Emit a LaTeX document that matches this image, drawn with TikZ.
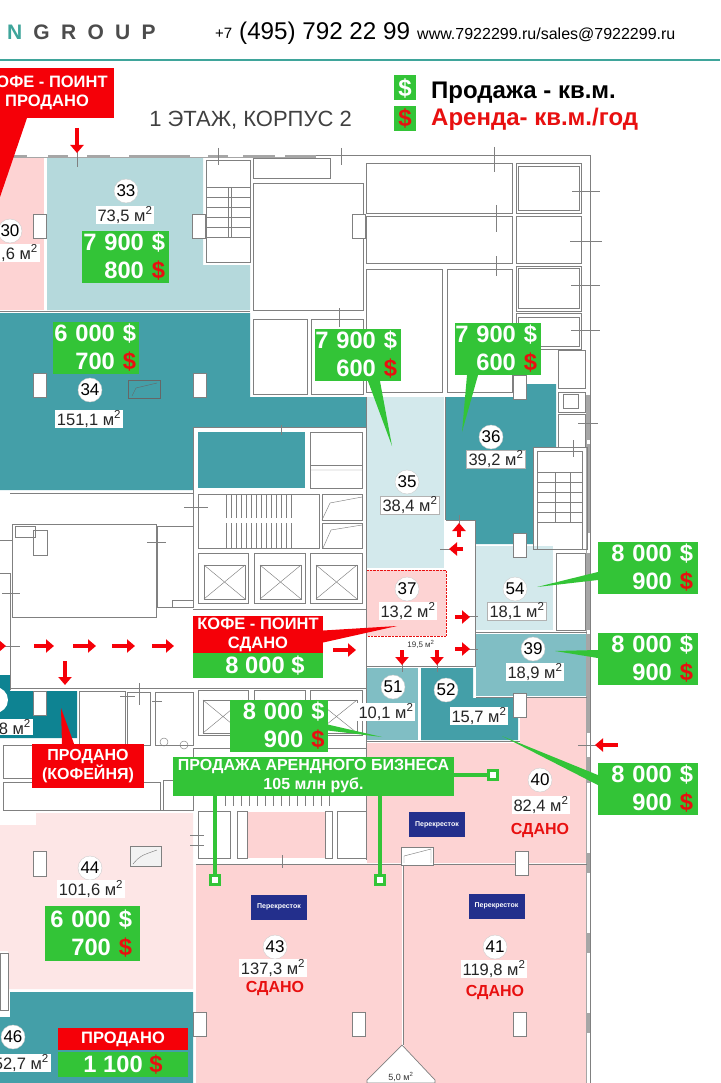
\documentclass[tikz,border=0pt]{standalone}
\usepackage{fontspec}
\setmainfont{Liberation Sans}
\usepackage{xcolor}
\usetikzlibrary{arrows.meta,calc}
\definecolor{pricegreen}{HTML}{33C437}
\definecolor{rentred}{HTML}{E81010}
\definecolor{soldred}{HTML}{F50008}
\definecolor{roompink}{HTML}{FDD3D3}
\definecolor{palepink}{HTML}{FDE6E6}
\definecolor{roomteal}{HTML}{449FA8}
\definecolor{darkteal}{HTML}{0E8392}
\definecolor{midteal}{HTML}{80BEC4}
\definecolor{lightteal}{HTML}{B5D9DC}
\definecolor{paleteal}{HTML}{D3E9EC}
\definecolor{wallgray}{HTML}{808080}
\definecolor{headteal}{HTML}{3FA59B}
\definecolor{logoblue}{HTML}{232F8C}
\newcommand{\fs}[2]{\fontsize{#1}{#2}\selectfont}
\newcommand{\rd}{\textcolor{rentred}{\$}}
\newcommand{\sqm}{ м\textsuperscript{2}}
\newcommand{\pr}[3][4pt]{#2 \$\kern#1\\#3 \rd\kern#1}
\begin{document}
\begin{tikzpicture}[x=1pt,y=-1pt,
		wall/.style={draw=wallgray,line width=.7pt},
		thinline/.style={draw=wallgray,line width=.45pt},
		redarrow/.style={draw=soldred,line width=4pt,-{Triangle[length=8pt,width=13pt]}},
		pin/.style={draw=pricegreen,line width=4pt},
		price/.style={fill=pricegreen,text=white,font=\fs{23.7}{28}\bfseries,align=right,text width=#1pt,inner xsep=0pt,inner ysep=0pt,minimum height=52pt},
		redbox/.style={fill=soldred,text=white,font=\fs{16.5}{19}\bfseries,align=center,inner sep=0pt},
		num/.style={circle,fill=white,draw=black!20,line width=.4pt,inner sep=0pt,minimum size=24pt,font=\fs{17}{17}},
		area/.style={fill=white,inner xsep=2pt,inner ysep=1pt,text=black!85,font=\fs{16.5}{17}},
		sdano/.style={text=rentred,font=\fs{16}{16}\bfseries,inner sep=0pt},
		logo/.style={fill=logoblue,text=white,font=\fs{7}{7}\bfseries,minimum width=56pt,minimum height=25pt,inner sep=0pt},
		pinend/.style={fill=white,draw=pricegreen,line width=3pt,minimum size=9pt,inner sep=0pt}]
	\useasboundingbox (0,0) rectangle (720,1083);
	\clip (0,0) rectangle (720,1083);
	\fill[white] (0,0) rectangle (720,1083);
	\draw[draw=headteal,line width=1.3pt] (0,60) -- (720,60);
	\node[anchor=west,inner sep=0pt,text=black!70,font=\fs{21}{21}\bfseries\addfontfeature{LetterSpace=54}] (brand) at (7,32) {\textcolor{headteal}{N}\kern 11pt GROUP};
	\node[anchor=base west,inner sep=0pt,font=\fs{15}{15}] (plus) at (215,39) {+7};
	\node[anchor=base west,inner sep=0pt,font=\fs{24.2}{25}] (phone) at (239,40) {(495) 792 22 99};
	\node[anchor=base west,inner sep=0pt,font=\fs{16}{16}] (web) at (417,40) {www.7922299.ru/sales@7922299.ru};
	\node[inner sep=0pt,text=black!75,font=\fs{22}{22}] (title) at (250.5,120) {1 ЭТАЖ, КОРПУС 2};
	\node[fill=pricegreen,text=white,minimum width=22pt,minimum height=25pt,inner sep=0pt,font=\fs{24}{24}\bfseries] (legsale) at (405,88) {\$};
	\node[fill=pricegreen,text=rentred,minimum width=22pt,minimum height=25pt,inner sep=0pt,font=\fs{24}{24}\bfseries] (legrent) at (405,118.5) {\$};
	\node[anchor=base west,inner sep=0pt,font=\fs{24}{24}\bfseries] (legsaletxt) at (431,99) {Продажа - кв.м.};
	\node[anchor=base west,inner sep=0pt,text=rentred,font=\fs{24}{24}\bfseries] (legrenttxt) at (431,126) {Аренда- кв.м./год};

	\fill[roompink] (0,158) rectangle (44,310);
	\fill[lightteal] (47,158) -- (203,158) -- (203,265) -- (250,265) -- (250,310) -- (47,310) -- cycle;
	\fill[roomteal] (0,313) -- (250,313) -- (250,397) -- (366,397) -- (366,427) -- (193,427) -- (193,490) -- (0,490) -- cycle;
	\fill[roomteal] (198,432) rectangle (305,488);
	\fill[paleteal] (367,397) rectangle (444,568);
	\fill[roomteal] (446,397) -- (527,397) -- (527,384) -- (556,384) -- (556,447) -- (533,447) -- (533,544) -- (475,544) -- (475,520) -- (446,520) -- cycle;
	\fill[paleteal] (476,546) rectangle (553,630);
	\fill[roompink] (367,570) rectangle (446,636);
	\draw[rentred,densely dotted,line width=.4pt] (367,570) -- (446,570) -- (446,636) -- (367,636);
	\fill[midteal] (476,634) rectangle (587,696);
	\fill[midteal] (367,668) rectangle (418,740);
	\fill[roomteal] (421,668) -- (473,668) -- (473,698) -- (518,698) -- (518,740) -- (421,740) -- cycle;
	\fill[roompink] (520,698) -- (587,698) -- (587,863) -- (367,863) -- (367,743) -- (520,743) -- cycle;
	\fill[roompink] (196,865) rectangle (402,1083);
	\fill[roompink] (404,865) rectangle (587,1083);
	\fill[roompink] (247,812) rectangle (325,858);
	\fill[palepink] (36,813) -- (193,813) -- (193,989) -- (8,989) -- (8,951) -- (0,951) -- (0,825) -- (36,825) -- cycle;
	\fill[roomteal] (10,992) -- (193,992) -- (193,1083) -- (0,1083) -- (0,1017) -- (10,1017) -- cycle;
	\fill[darkteal] (0,675) -- (10,675) -- (10,691) -- (77,691) -- (77,738) -- (0,738) -- cycle;
	\fill[white] (-5,700) circle (13);

	\draw[wall] (0,155) -- (590,155) -- (590,1083);
	\fill[wallgray!70] (0,155) rectangle (316,158);
	\foreach \xa/\xb in {27/48,68/87,110/129,190/208,228/243,275/285}
		\fill[white] (\xa,155.5) rectangle (\xb,157.5);
	\fill[wallgray!70] (586,395) rectangle (590,1083);
	\foreach \ya/\yb in {440/444,533/553,630/634,733/757,783/853,873/933,953/1013,1033/1083}
		\fill[white] (586.5,\ya) rectangle (589.5,\yb);
	\foreach \xa/\ya/\xb/\yb in {
		253/158/330/178,253/183/363/310,366/163/512/213,366/216/512/263,366/269/442/392,447/269/512/392,
		516/163/581/213,518/166/579/210,516/216/581/263,516/266/581/311,518/268/579/308,516/313/581/349,518/317/579/346,
		253/319/307/394,311/319/363/394,558/350/585/388,558/392/585/412,563/394/578/408,558/414/585/447,556/553/585/630,
		533/447/587/549,537/451/582/549,
		206/160/250/262,310/432/362/465,310/465/362/488,198/494/319/548,322/494/362/520,322/523/362/548,
		198/553/248/603,254/553/305/603,310/553/362/603,198/690/248/735,254/690/305/735,310/690/362/735,
		12/524/156/617,157/526/193/607,172/600/193/607,15/526/35/537,33/530/47/555,
		79/691/125/745,127/692/150/745,155/692/193/745,3/745/35/778,3/782/160/810,163/780/193/810,
		198/811/230/858,237/811/247/858,325/811/332/858,337/811/366/858}
		\draw[wall] (\xa,\ya) rectangle (\xb,\yb);
	\foreach \xa/\ya/\xb/\yb in {
		204/565/245/599,260/565/301/599,316/565/357/599,203/700/243/733,260/700/301/733,316/700/357/733}{
		\draw[thinline] (\xa,\ya) rectangle (\xb,\yb);
		\draw[thinline] (\xa,\ya) -- (\xb,\yb) (\xa,\yb) -- (\xb,\ya);
		}
	\foreach \yy in {187,197,...,237}
		\draw[thinline] (206,\yy) -- (250,\yy);
	\foreach \yy in {472,482,...,522}
		\draw[thinline] (537,\yy) -- (582,\yy);
	\foreach \xx in {226,231,...,295}{
		\draw[thinline] (\xx,494) -- (\xx,518);
		\draw[thinline] (\xx,523) -- (\xx,548);
		}
	\foreach \xx in {225,233,...,330}
		\draw[thinline] (\xx,790) -- (\xx,806);
	\draw[thinline] (228,187) -- (228,237) (231,187) -- (231,237) (555,472) -- (555,523) (570,472) -- (570,523);
	\draw[wall] (10,493) -- (193,493) (193,427) -- (366,427) (193,427) -- (193,608) (0,540) -- (12,540) (0,573) -- (10,573) -- (10,690);
	\draw[wall] (193,609) -- (366,609) (10,688) -- (366,688) (193,748) -- (366,748) (193,748) -- (193,810) (36,810) -- (193,810);
	\draw[wall] (446,520) -- (475,520) -- (475,666) -- (366,666) (366,397) -- (366,860) (367,741.5) -- (520,741.5);
	\draw[wall] (196,864) -- (587,864) (403,864) -- (403,1045) (476,632) -- (587,632) (476,697) -- (587,697) (445,397) -- (445,520) (0,311.5) -- (250,311.5);
	\fill[white,draw=wallgray,line width=.7pt] (402,1045) -- (435,1080) -- (435,1083) -- (367,1083) -- (367,1080) -- cycle;
	\fill[white,draw=wallgray,line width=.7pt] (401,847) rectangle (433,865);
	\draw[thinline] (404,863) -- (404,856) -- (431,849) -- (431,863);
	\draw[thinline] (322,520) -- (330,503) -- (362,497) (323,548) -- (331,530) -- (362,525) (310,470) -- (362,470);
	\foreach \xa/\ya/\xb/\yb in {
		77/150/77/167,218/148/218/165,341/148/341/165,494/147/494/172,496/205/496/232,496/256/496/276,339/308/339/327,
		572/191/600/191,570/241/602/241,571/285/600/285,571/330/600/330,578/423/598/423,184/507/208/507,147/542/166/542,
		2/593/20/593,5/646/20/646,120/696/135/696,139/683/139/705,152/701/162/701,281/425/281/435,573/440/573/457,
		282/855/282/868,190/835/204/835,190/845/204/845,464/616/478/616,464/649/478/649,402/660/402/672,437/660/437/672,
		459/515/459/528,440/549/450/549,578/745/600/745}
		\draw[thinline] (\xa,\ya) -- (\xb,\yb);
	\foreach \xa/\ya in {33/214,192/214,352/214,33/373,193/373,513/375,513/533,513/693,33/691,515/851,193/1012,352/1012,513/1012}
		\fill[white,draw=wallgray,line width=.3pt] (\xa,\ya) rectangle +(13,24);
	\fill[white,draw=wallgray,line width=.6pt] (33,851) rectangle (46,876);
	\fill[white,draw=wallgray,line width=.6pt] (0,953) rectangle (8,1010);
	\draw[wall,fill=black!5] (130,846) rectangle (161,866);
	\draw[thinline] (133,864) .. controls (140,856) .. (157,850);
	\draw[draw=black!60,line width=.5pt] (128,380) rectangle (160,398);
	\draw[draw=black!60,line width=.4pt] (132,396) -- (136,388) -- (157,383);
	\draw[thinline] (184,745) circle (4) (164,742) circle (4);

	\coordinate (tipcafe) at (0,197);
	\coordinate (tip35) at (392,446);
	\coordinate (tip36) at (462,432);
	\coordinate (tip54) at (537,587);
	\coordinate (tip39) at (555,651);
	\coordinate (tip40) at (502,736);
	\coordinate (tip51) at (382,737);
	\coordinate (tipkofe) at (397,626);
	\coordinate (tipkof) at (61,708);

	\node[redbox,minimum width=134pt,minimum height=50pt] (cafesold) at (47,93) {КОФЕ - ПОИНТ\\ПРОДАНО};
	\fill[soldred] (0,118) -- (27,118) -- (tipcafe) -- cycle;
	\node[price=87] (p33) at (125.5,257) {\pr{7 900}{800}};
	\node[price=86] (p34) at (96,348) {\pr[3pt]{6 000}{700}};
	\node[price=86] (p35) at (358,355) {\pr{7 900}{600}};
	\node[price=86] (p36) at (498,349) {\pr{7 900}{600}};
	\node[price=100] (p54) at (648,568) {\pr[5pt]{8 000}{900}};
	\node[price=100] (p39) at (648,659) {\pr[5pt]{8 000}{900}};
	\node[price=100] (p40) at (648,789) {\pr[5pt]{8 000}{900}};
	\node[price=98] (p51) at (278.5,725.5) {\pr[3pt]{8 000}{900}};
	\node[price=95,minimum height=55pt] (p44) at (92.5,933.5) {\pr[8pt]{6 000}{700}};
	\fill[pricegreen] ([xshift=10pt]p35.south) -- (tip35) -- ([xshift=22pt]p35.south) -- cycle;
	\fill[pricegreen] ([xshift=-31pt]p36.south) -- (tip36) -- ([xshift=-20pt]p36.south) -- cycle;
	\fill[pricegreen] ([yshift=-4pt]p54.west) -- (tip54) -- ([yshift=-12pt]p54.west) -- cycle;
	\fill[pricegreen] ([yshift=9pt]p39.west) -- (tip39) -- ([yshift=1pt]p39.west) -- cycle;
	\fill[pricegreen] ([yshift=14pt]p40.west) -- (tip40) -- ([yshift=4pt]p40.west) -- cycle;
	\fill[pricegreen] ([yshift=1pt]p51.east) -- (tip51) -- ([yshift=-5pt]p51.east) -- cycle;

	\node[redbox,minimum width=130pt,minimum height=37pt] (kofered) at (258,634.5) {КОФЕ - ПОИНТ\\СДАНО};
	\node[fill=pricegreen,text=white,font=\fs{23.7}{24}\bfseries,minimum width=130pt,minimum height=25pt,inner sep=0pt,anchor=north] (kofeprice) at (kofered.south) {\hspace*{14pt}8 000 \$};
	\fill[soldred] ([yshift=4pt]kofered.east) -- (tipkofe) -- ([yshift=-8pt]kofered.east) -- cycle;
	\node[redbox,minimum width=112pt,minimum height=44pt,font=\fs{16}{19}\bfseries] (kofeynya) at (88,766) {ПРОДАНО\\(КОФЕЙНЯ)};
	\fill[soldred] ([xshift=-26pt]kofeynya.north) -- (tipkof) -- ([xshift=-14pt]kofeynya.north) -- cycle;
	\node[redbox,minimum width=130pt,minimum height=22pt] (sold46) at (123,1039) {ПРОДАНО};
	\node[fill=pricegreen,text=white,font=\fs{23.7}{24}\bfseries,minimum width=130pt,minimum height=25pt,inner sep=0pt] (price46) at (123,1064.5) {1 100 \rd};

	\node[pinend] (pinA) at (215,880) {};
	\node[pinend] (pinB) at (380,880) {};
	\node[pinend] (pinC) at (493,775) {};
	\node[fill=pricegreen,text=white,font=\fs{16}{19}\bfseries,align=center,minimum width=281pt,minimum height=39pt,inner sep=0pt] (banner) at (313.5,776.5) {ПРОДАЖА АРЕНДНОГО БИЗНЕСА\\105 млн руб.};
	\draw[pin] (pinA.north |- banner.south) -- (pinA.north);
	\draw[pin] (pinB.north |- banner.south) -- (pinB.north);
	\draw[pin] (banner.east |- pinC.west) -- (pinC.west);

	\node[logo] (logoA) at (437,824.5) {Перекресток};
	\node[logo] (logoB) at (279,907) {Перекресток};
	\node[logo] (logoC) at (496.5,906) {Перекресток};

	\node[num] (n33) at (126,191) {33};
	\node[num] (n30) at (10,231) {30};
	\node[num] (n34) at (90,390) {34};
	\node[num] (n35) at (407,482) {35};
	\node[num] (n36) at (491,437) {36};
	\node[num] (n54) at (515,589) {54};
	\node[num] (n37) at (407,589) {37};
	\node[num] (n39) at (533,649) {39};
	\node[num] (n51) at (393,687) {51};
	\node[num] (n52) at (446,690) {52};
	\node[num] (n40) at (540,780) {40};
	\node[num] (n43) at (275,947) {43};
	\node[num] (n41) at (495,947) {41};
	\node[num] (n44) at (90,868) {44};
	\node[num] (n46) at (13,1037) {46};

	\node[area] (a33) at (125,215) {73,5\sqm};
	\node[area,anchor=east] (a30) at (40,253) {,6\sqm};
	\node[area] (a34) at (89,419) {151,1\sqm};
	\node[area,draw=black!30,line width=.4pt] (a35) at (410,505) {38,4\sqm};
	\node[area,draw=black!30,line width=.4pt] (a36) at (496,459) {39,2\sqm};
	\node[area,draw=black!30,line width=.4pt] (a54) at (517,611) {18,1\sqm};
	\node[area] (a37) at (408,611) {13,2\sqm};
	\node[area] (a39) at (535,672) {18,9\sqm};
	\node[area] (a51) at (386,712) {10,1\sqm};
	\node[area] (a52) at (479,716) {15,7\sqm};
	\node[area] (a40) at (541,805) {82,4\sqm};
	\node[area] (a43) at (273,968) {137,3\sqm};
	\node[area] (a41) at (494,969) {119,8\sqm};
	\node[area] (a44) at (91,889) {101,6\sqm};
	\node[area,anchor=east] (a46) at (51,1063) {52,7\sqm};
	\node[area,anchor=east] (a38) at (33,727) {8\sqm};
	\node[sdano] (s40) at (540,830) {СДАНО};
	\node[sdano] (s43) at (275,988) {СДАНО};
	\node[sdano] (s41) at (495,992) {СДАНО};
	\node[inner sep=0pt,text=black!80,font=\fs{8}{8}] (c195) at (421,644) {19,5\sqm};
	\node[inner sep=0pt,text=black!80,font=\fs{9}{9}] (c50) at (401,1077) {5,0\sqm};

	\foreach \xa/\ya/\xb/\yb in {
		77/128/77/153,-8/646/6/646,34/646/54/646,73/646/96/646,112/646/135/646,152/646/174/646,333/650/356/650,
		65/661/65/685,459/537/459/523,463/549/449/549,455/617/470/617,455/649/470/649,402/650/402/665,437/650/437/665,618/745/595/745}
		\draw[redarrow] (\xa,\ya) -- (\xb,\yb);
\end{tikzpicture}
\end{document}
